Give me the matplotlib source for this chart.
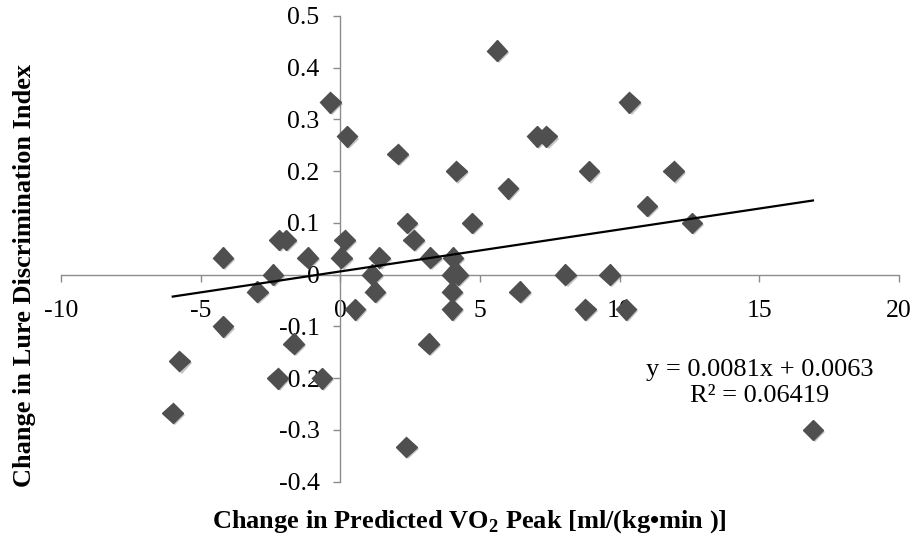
import matplotlib.pyplot as plt
import matplotlib.patheffects as pe
import numpy as np

plt.rcParams['font.family'] = ['Liberation Serif', 'DejaVu Serif']
plt.rcParams['axes.unicode_minus'] = False
plt.rcParams['mathtext.fontset'] = 'custom'
plt.rcParams['mathtext.rm'] = 'Liberation Serif'
plt.rcParams['mathtext.bf'] = 'Liberation Serif:bold'

# change in predicted VO2 peak vs change in lure discrimination index
vo2_change = [-0.36, 0.24, 2.05, 4.15, 2.38, 2.63, 0.15, -2.2, -1.95, -4.2,
              -1.17, 0.04, 1.40, 3.22, 4.03, -2.41, 1.13, -2.97, 1.24, 0.52,
              4.0, 4.2, 4.0, 4.0, 6.0, 4.71, 6.42, 8.06, 8.77, 8.9,
              11.93, 10.98, 12.59, 9.64, 10.22, 5.61, 10.35, 7.04, 7.38, -4.2,
              -1.67, 3.16, -5.76, -2.24, -0.66, -6.0, 2.36, 16.92]
ldi_change = [0.333, 0.267, 0.233, 0.2, 0.1, 0.067, 0.067, 0.067, 0.067, 0.033,
              0.033, 0.033, 0.033, 0.033, 0.033, 0.0, 0.0, -0.033, -0.033, -0.067,
              0.0, 0.0, -0.033, -0.067, 0.167, 0.1, -0.033, 0.0, -0.067, 0.2,
              0.2, 0.133, 0.1, 0.0, -0.067, 0.433, 0.333, 0.267, 0.267, -0.1,
              -0.133, -0.133, -0.167, -0.2, -0.2, -0.267, -0.333, -0.3]

slope, intercept = 0.0081, 0.0063
x_ticks = [-10, -5, 0, 5, 10, 15, 20]
y_ticks = [-0.4, -0.3, -0.2, -0.1, 0, 0.1, 0.2, 0.3, 0.4, 0.5]
y_tick_labels = ['-0.4', '-0.3', '-0.2', '-0.1', '0', '0.1', '0.2', '0.3', '0.4', '0.5']

fig = plt.figure(figsize=(9.15, 5.41), dpi=100)
ax = fig.add_axes([0.0667, 0.1096, 0.9158, 0.861])

ax.plot(vo2_change, ldi_change, linestyle='none', marker='D', markersize=10.5,
        color='#4f4f4f', zorder=3,
        path_effects=[pe.SimplePatchShadow(offset=(1.5, -1.5), shadow_rgbFace='#555555', alpha=0.35),
                      pe.Normal()])

xs = np.array([min(vo2_change), max(vo2_change)])
ax.plot(xs, slope * xs + intercept, color='black', lw=1.6, zorder=4)

ax.set_xlim(-10, 20)
ax.set_ylim(-0.4, 0.5)
ax.set_xticks(x_ticks)
ax.set_yticks(y_ticks)
ax.set_yticklabels(y_tick_labels)

for s in ['top', 'right']:
    ax.spines[s].set_visible(False)
ax.spines['left'].set_position(('data', 0))
ax.spines['bottom'].set_position(('data', 0))
for s in ['left', 'bottom']:
    ax.spines[s].set_color('#8c8c8c')
    ax.spines[s].set_linewidth(1.0)

ax.tick_params(axis='both', direction='out', length=5, width=1.0, color='#8c8c8c',
               labelsize=18.5)
ax.tick_params(axis='x', pad=13)
ax.tick_params(axis='y', pad=10)

ax.text(15.0, -0.21, 'y = 0.0081x + 0.0063\nR² = 0.06419', ha='center', va='center',
        fontsize=19, linespacing=1.25)

fig.text(0.513, 0.036, 'Change in Predicted VO$_\\mathbf{2}$ Peak [ml/(kg•min )]',
         ha='center', va='center', fontsize=19, fontweight='bold')
fig.text(0.027, 0.49, 'Change in Lure Discrimination Index', rotation=90,
         ha='center', va='center', fontsize=19, fontweight='bold')

fig.savefig('out.png', dpi=100, facecolor='white')
